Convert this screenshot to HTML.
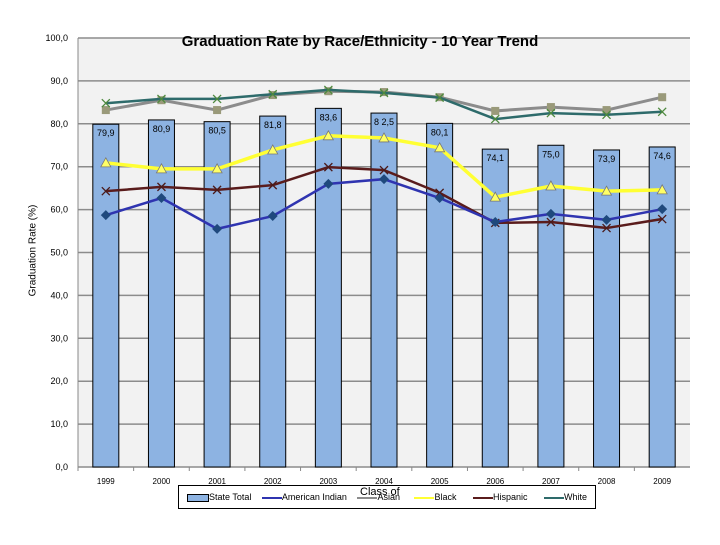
<!DOCTYPE html>
<html><head><meta charset="utf-8"><style>
body{margin:0;background:#fff;font-family:"Liberation Sans",sans-serif}
</style></head><body>
<svg id="c" width="720" height="540" xmlns="http://www.w3.org/2000/svg" font-family="Liberation Sans, sans-serif"></svg>
<script>
const years=["1999","2000","2001","2002","2003","2004","2005","2006","2007","2008","2009"];
const stateTotal=[79.9,80.9,80.5,81.8,83.6,82.5,80.1,74.1,75.0,73.9,74.6];
const stateLabels=["79,9","80,9","80,5","81,8","83,6","8 2,5","80,1","74,1","75,0","73,9","74,6"];
const amIndian=[58.7,62.7,55.5,58.5,66.0,67.1,62.7,57.1,59.0,57.6,60.1];
const asian=[83.2,85.5,83.2,86.7,87.6,87.4,86.2,83.0,83.9,83.2,86.2];
const black=[70.9,69.5,69.5,73.9,77.2,76.7,74.4,62.9,65.5,64.3,64.6];
const hispanic=[64.3,65.3,64.6,65.7,69.9,69.2,63.9,56.9,57.1,55.7,57.8];
const white=[84.8,85.8,85.8,86.9,87.9,87.2,86.1,81.1,82.5,82.1,82.8];
const yTicks=[0,10,20,30,40,50,60,70,80,90,100];
const NS="http://www.w3.org/2000/svg",svg=document.getElementById('c');
const L=78,R=690,T=38,B=467,band=(R-L)/years.length;
const x=i=>L+band*(i+0.5), y=v=>B-(v/100)*(B-T);
function el(t,a,p){const e=document.createElementNS(NS,t);for(const k in a)e.setAttribute(k,a[k]);(p||svg).appendChild(e);return e;}
let bg=el('rect',{x:L,y:T,width:R-L,height:B-T,fill:'#f2f2f2'});


yTicks.forEach(v=>{
 let g=el('line',{x1:L,x2:R,y1:y(v),y2:y(v),stroke:'#8c8c8c','stroke-width':1.5});
 
 
 let t=el('text',{x:L-10,y:y(v)+3,'font-size':9,'text-anchor':'end',fill:'#000'});t.textContent=v.toFixed(1).replace('.',',');
 
 
});
el('line',{x1:L,x2:L,y1:T,y2:B,stroke:'#888'});
years.forEach((yr,i)=>{
 let b=el('rect',{x:x(i)-13,y:y(stateTotal[i]),width:26,height:B-y(stateTotal[i]),fill:'#8db3e2',stroke:'#000','stroke-width':1});
 
 
 let lt=el('text',{x:x(i),y:y(stateTotal[i])+12,'font-size':9,'text-anchor':'middle'});lt.textContent=stateLabels[i];
 
 
 let t=el('text',{x:x(i),y:B+17,'font-size':8,'text-anchor':'middle'});t.textContent=yr;
 
 
 el('line',{x1:L+band*i,x2:L+band*i,y1:B,y2:B+4,stroke:'#888'});
});
function series(d,col,w,name,marker){
 let p=el('polyline',{points:d.map((v,i)=>x(i)+','+y(v)).join(' '),fill:'none',stroke:col,'stroke-width':w});
 
 
 d.forEach((v,i)=>{const cx=x(i),cy=y(v);let m;
  if(marker=='d')m=el('polygon',{points:`${cx},${cy-5} ${cx+5},${cy} ${cx},${cy+5} ${cx-5},${cy}`,fill:'#1f497d'});
  else if(marker=='t')m=el('polygon',{points:`${cx},${cy-5} ${cx+5},${cy+4} ${cx-5},${cy+4}`,fill:'#ffff66',stroke:'#777','stroke-width':0.8});
  else if(marker=='s')m=el('rect',{x:cx-4,y:cy-4,width:8,height:8,fill:'#9a9a7a'});
  else m=el('path',{d:`M${cx-4} ${cy-4}L${cx+4} ${cy+4}M${cx-4} ${cy+4}L${cx+4} ${cy-4}`,stroke:marker=='x'?'#4e8a3e':'#4a1a1a','stroke-width':1.3});
  
  
 });
}
series(asian,'#8c8c8c',3,'asian','s');
series(white,'#2e6b6b',2.5,'white','x');
series(black,'#ffff33',3.5,'black','t');
series(hispanic,'#5a1c1c',2.5,'hispanic','+');
series(amIndian,'#2f34b0',2.5,'american-indian','d');
</script>
<div style="position:absolute;left:0;top:33;width:720px;top:33px;text-align:center;font-weight:bold;font-size:15px;">Graduation Rate by Race/Ethnicity - 10 Year Trend</div>
<div style="position:absolute;left:-22px;top:245px;width:110px;text-align:center;font-size:10px;transform:rotate(-90deg)">Graduation Rate (%)</div>
<div style="position:absolute;left:178px;top:485px;width:416px;height:22px;border:1px solid #000;background:#fff;font-size:9px;line-height:22px;white-space:nowrap">
<span style="margin-left:8px"><span style="display:inline-block;width:20px;height:6px;background:#8db3e2;border:1px solid #000;vertical-align:middle"></span>State Total</span>
<span style="margin-left:8px"><span style="display:inline-block;width:20px;height:2px;background:#2f34b0;vertical-align:middle"></span>American Indian</span>
<span style="margin-left:8px"><span style="display:inline-block;width:20px;height:2px;background:#8c8c8c;vertical-align:middle"></span>Asian</span>
<span style="margin-left:12px"><span style="display:inline-block;width:20px;height:2px;background:#ffff33;vertical-align:middle"></span>Black</span>
<span style="margin-left:14px"><span style="display:inline-block;width:20px;height:2px;background:#5a1c1c;vertical-align:middle"></span>Hispanic</span>
<span style="margin-left:14px"><span style="display:inline-block;width:20px;height:2px;background:#2e6b6b;vertical-align:middle"></span>White</span>
</div>
<div style="position:absolute;left:360px;top:486px;font-size:11px">Class of</div>
</body></html>
